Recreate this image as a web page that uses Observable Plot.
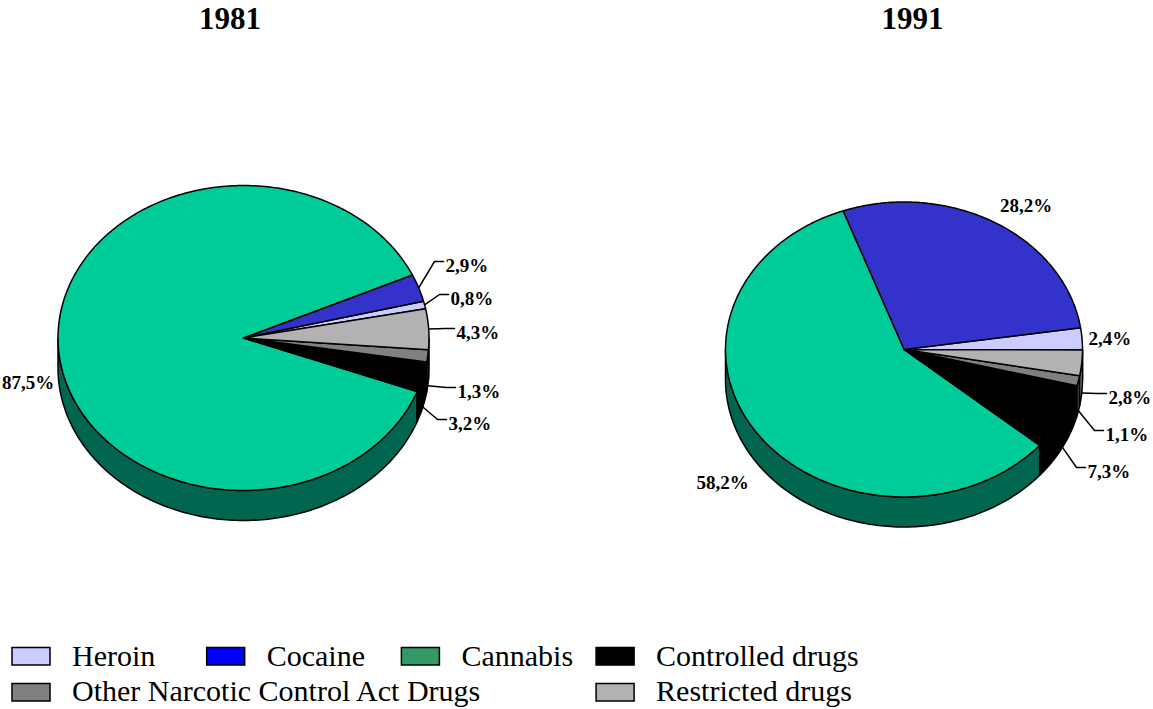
<!DOCTYPE html>
<html>
<head>
<meta charset="utf-8">
<script src="https://cdn.jsdelivr.net/npm/d3@7"></script>
<script src="https://cdn.jsdelivr.net/npm/@observablehq/plot@0.6"></script>
<style>
  body { margin: 0; background: #ffffff; }
  svg { display: block; }
</style>
</head>
<body>
<div id="chart"></div>
<script>
// ---------- data ----------
const categories = ["Heroin", "Cocaine", "Cannabis", "Controlled drugs", "Other Narcotic Control Act Drugs", "Restricted drugs"];
const years = ["1981", "1991"];
const share1981 = [0.8, 2.9, 87.5, 3.2, 1.3, 4.3];
const share1991 = [2.4, 28.2, 58.2, 7.3, 1.1, 2.8];

// ---------- styles ----------
const topColors = ["#CCCCFF", "#3333CC", "#00CC99", "#000000", "#808080", "#B2B2B2"];
const wallColors = ["#8A8AB0", "#1C1C80", "#006650", "#000000", "#4D4D4D", "#707070"];
const legendColors = ["#CCCCFF", "#0000FF", "#339966", "#000000", "#808080", "#B2B2B2"];
const serif = "'Liberation Serif', 'Times New Roman', serif";

// ---------- layout ----------
const pieLayout = [
  {cx: 243, cy: 337.5, rx: 185.5, ry: 152.5, depth: 30, start: -11.1},
  {cx: 903.5, cy: 349, rx: 178.5, ry: 147.5, depth: 30, start: 0.2}
];
const titleX = [229.5, 912];
const titleY = 18.5;
const labelLayout = [
  [
    {x: 450, y: 298, anchor: "start", leader: true},
    {x: 445, y: 265, anchor: "start", leader: true},
    {x: 27.5, y: 382, anchor: "middle", leader: false},
    {x: 448, y: 423, anchor: "start", leader: true},
    {x: 457, y: 391, anchor: "start", leader: true},
    {x: 456, y: 332, anchor: "start", leader: true}
  ],
  [
    {x: 1088, y: 338.5, anchor: "start", leader: false},
    {x: 1025.5, y: 205, anchor: "middle", leader: false},
    {x: 722, y: 482, anchor: "middle", leader: false},
    {x: 1087, y: 471, anchor: "start", leader: true},
    {x: 1105, y: 434, anchor: "start", leader: true},
    {x: 1108, y: 397, anchor: "start", leader: true}
  ]
];
const legendCol = [0, 1, 2, 3, 0, 3];
const legendRow = [0, 0, 0, 0, 1, 1];

// ---------- geometry helpers ----------
const rad = Math.PI / 180;
function pt(p, a, dz = 0) {
  return {x: p.cx + p.rx * Math.cos(a * rad), y: p.cy + p.ry * Math.sin(a * rad) + dz};
}
function arc(p, a0, a1, dz = 0) {
  const n = Math.max(2, Math.ceil(Math.abs(a1 - a0)));
  const out = [];
  for (let k = 0; k <= n; k++) out.push(pt(p, a0 + (a1 - a0) * k / n, dz));
  return out;
}

const marks = [];
const shares = [share1981, share1991];

shares.forEach((values, pi) => {
  const p = pieLayout[pi];
  const total = d3.sum(values);
  let cum = 0;
  const slices = values.map((v, i) => {
    const a1 = p.start - cum / total * 360;
    cum += v;
    const a0 = p.start - cum / total * 360;
    return {i, v, a0, a1, mid: (a0 + a1) / 2};
  });

  // side walls (visible lower half)
  slices.forEach(s => {
    for (let k = -2; k <= 1; k++) {
      const lo = Math.max(s.a0, 360 * k);
      const hi = Math.min(s.a1, 360 * k + 180);
      if (hi > lo) {
        const poly = [...arc(p, lo, hi, 0), ...arc(p, hi, lo, p.depth)];
        poly.push(poly[0]);
        marks.push(Plot.line(poly, {x: "x", y: "y", fill: wallColors[s.i], stroke: "#000", strokeWidth: 1.5, strokeLinejoin: "round"}));
      }
    }
  });

  // top faces
  slices.forEach(s => {
    const c = {x: p.cx, y: p.cy};
    const poly = [c, ...arc(p, s.a0, s.a1, 0), c];
    marks.push(Plot.line(poly, {x: "x", y: "y", fill: topColors[s.i], stroke: "#000", strokeWidth: 1.5, strokeLinejoin: "round"}));
  });

  // labels and leader lines
  const labs = slices.map(s => {
    const L = labelLayout[pi][s.i];
    return {text: s.v.toFixed(1).replace(".", ",") + "%", x: L.x, y: L.y, anchor: L.anchor, leader: L.leader, mid: s.mid};
  });
  labs.filter(d => d.leader).forEach(d => {
    const lower = Math.sin(d.mid * rad) > 0;
    const a = pt(p, d.mid, lower ? p.depth : 0);
    const lineY = d.y - 4;
    const path = [a, {x: d.x - 11, y: lineY}, {x: d.x - 2, y: lineY}];
    marks.push(Plot.line(path, {x: "x", y: "y", stroke: "#000", strokeWidth: 1.5}));
  });
  ["start", "middle"].forEach(anchor => {
    marks.push(Plot.text(labs.filter(d => d.anchor === anchor), {
      x: "x", y: "y", text: "text", textAnchor: anchor, lineAnchor: "middle",
      fontFamily: serif, fontWeight: "bold", fontSize: 19, fill: "#000"
    }));
  });
});

// titles
marks.push(Plot.text(years, {
  x: (d, i) => titleX[i], y: () => titleY, text: d => d,
  fontFamily: serif, fontWeight: "bold", fontSize: 31, fill: "#000", lineAnchor: "middle"
}));

// legend
const legendItems = categories.map((name, i) => {
  const x1 = 12 + legendCol[i] * 194.7;
  const y1 = 647.5 + legendRow[i] * 36;
  return {name, color: legendColors[i], x1, x2: x1 + 38, y1, y2: y1 + 17.5, tx: x1 + 59.5, ty: legendRow[i] ? 690.6 : 655.5};
});
marks.push(Plot.rect(legendItems, {x1: "x1", x2: "x2", y1: "y1", y2: "y2", fill: "color", stroke: "#000", strokeWidth: 1.5}));
marks.push(Plot.text(legendItems, {
  x: "tx", y: "ty", text: "name", textAnchor: "start", lineAnchor: "middle",
  fontFamily: serif, fontSize: 30, fill: "#000"
}));

const chart = Plot.plot({
  width: 1153,
  height: 709,
  margin: 0,
  x: {domain: [0, 1153], range: [0, 1153], axis: null},
  y: {domain: [0, 709], range: [0, 709], axis: null},
  color: {type: "identity"},
  style: {background: "#ffffff", fontFamily: serif, overflow: "visible"},
  marks
});
document.getElementById("chart").append(chart);
</script>
</body>
</html>
